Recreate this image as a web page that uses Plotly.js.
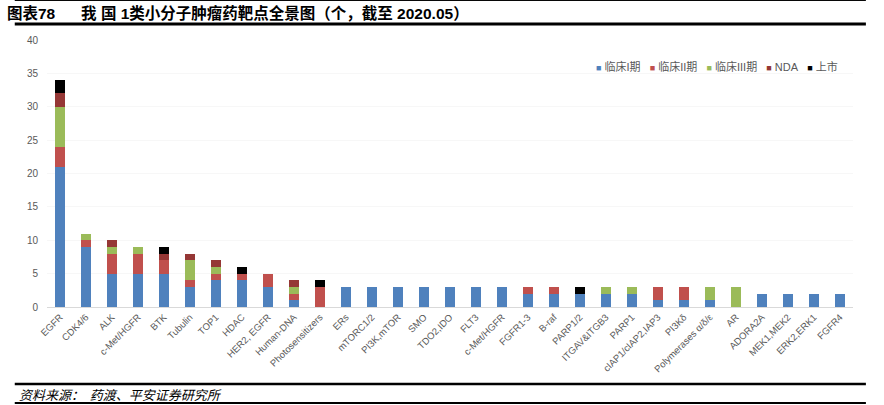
<!DOCTYPE html>
<html><head><meta charset="utf-8">
<script src="https://cdn.plot.ly/plotly-3.0.1.min.js"></script>
<style>html,body{margin:0;padding:0;background:#fff;}#chart{width:884px;height:405px;}</style>
</head><body><div id="chart"></div>
<script>
const categories = ["EGFR","CDK4/6","ALK","c-Met/HGFR","BTK","Tubulin","TOP1","HDAC","HER2, EGFR","Human-DNA","Photosensitizers","ERs","mTORC1/2","PI3K,mTOR","SMO","TDO2,IDO","FLT3","c-Met/HGFR","FGFR1-3","B-raf","PARP1/2","ITGAV&ITGB3","PARP1","cIAP1/cIAP2,IAP3","PI3Kδ","Polymerases α/δ/ε","AR","ADORA2A","MEK1,MEK2","ERK2,ERK1","FGFR4"];
const phase1 = [21,9,5,5,5,3,4,4,3,1,0,3,3,3,3,3,3,3,2,2,2,2,2,1,1,1,0,2,2,2,2];
const phase2 = [3,1,3,3,2,1,1,1,2,1,3,0,0,0,0,0,0,0,1,1,0,0,0,2,2,0,0,0,0,0,0];
const phase3 = [6,1,1,1,0,3,1,0,0,1,0,0,0,0,0,0,0,0,0,0,0,1,1,0,0,2,3,0,0,0,0];
const nda    = [2,0,1,0,1,1,1,0,0,1,0,0,0,0,0,0,0,0,0,0,0,0,0,0,0,0,0,0,0,0,0];
const listed = [2,0,0,0,1,0,0,1,0,0,1,0,0,0,0,0,0,0,0,0,1,0,0,0,0,0,0,0,0,0,0];
const seriesNames = ["临床I期","临床II期","临床III期","NDA","上市"];
const yTicks = [0,5,10,15,20,25,30,35,40];

const xIdx = categories.map((_, i) => i);
const colors = ["#4F81BD","#C0504D","#9BBB59","#953735","#000000"];
const data = [phase1, phase2, phase3, nda, listed].map((vals, k) => ({
  type: "bar", name: seriesNames[k], x: xIdx, y: vals,
  marker: {color: colors[k], line: {width: 0}}, hoverinfo: "y+name"
}));

const NB = "\u00a0";
const legendText = seriesNames.map((n, k) =>
  "<span style='color:" + colors[k] + ";font-size:9px'>■</span>" + NB + n).join(NB + NB + NB);

const layout = {
  width: 884, height: 405,
  margin: {l: 47, r: 31, t: 40, b: 98, autoexpand: false},
  barmode: "stack", bargap: 0.6,
  paper_bgcolor: "#fff", plot_bgcolor: "#fff",
  font: {family: "Arial, 'Liberation Sans', 'Noto Sans CJK SC', sans-serif", color: "#595959"},
  showlegend: false,
  xaxis: {
    tickmode: "array", tickvals: xIdx, ticktext: categories, tickangle: -45,
    range: [-0.5, 30.5], showline: true, linecolor: "#D9D9D9", linewidth: 1,
    ticks: "", tickfont: {size: 9.5, color: "#595959"}, showgrid: false, zeroline: false
  },
  yaxis: {
    range: [0, 40], tickmode: "array", tickvals: yTicks, ticks: "",
    tickfont: {size: 10, color: "#595959"}, showgrid: true, gridcolor: "#F7F7F7",
    showline: false, zeroline: false, ticklabelstandoff: 8
  },
  annotations: [
    {xref: "paper", yref: "paper", x: -0.052, y: 1.101, xanchor: "left", yanchor: "middle",
     showarrow: false, align: "left",
     text: "<b>图表78      我 国 1类小分子肿瘤药靶点全景图（个，截至 2020.05）</b>",
     font: {size: 15.5, color: "#000", family: "Arial, 'Noto Sans CJK SC', sans-serif"}},
    {xref: "paper", yref: "paper", x: 0.984, y: 0.899, xanchor: "right", yanchor: "middle",
     showarrow: false, text: legendText,
     font: {size: 11, color: "#595959", family: "Arial, 'Noto Sans CJK SC', sans-serif"}},
    {xref: "paper", yref: "paper", x: -0.037, y: -0.326, xanchor: "left", yanchor: "middle",
     showarrow: false,
     text: "<i>资料来源：  药渡、平安证券研究所</i>",
     font: {size: 13, color: "#000", family: "'Noto Sans CJK SC', sans-serif"}}
  ],
  shapes: [
    {type: "line", xref: "paper", yref: "paper", x0: -0.04, x1: 1.016, y0: 1.148, y1: 1.148,
     line: {color: "#000", width: 1}},
    {type: "line", xref: "paper", yref: "paper", x0: -0.04, x1: 1.016, y0: 1.06, y1: 1.06,
     line: {color: "#000", width: 3}},
    {type: "line", xref: "paper", yref: "paper", x0: -0.04, x1: 1.016, y0: -0.288, y1: -0.288,
     line: {color: "#000", width: 2.5}},
    {type: "line", xref: "paper", yref: "paper", x0: -0.04, x1: 1.016, y0: -0.3596, y1: -0.3596,
     line: {color: "#000", width: 2}}
  ]
};
Plotly.newPlot("chart", data, layout, {displayModeBar: false, staticPlot: true});
</script></body></html>
